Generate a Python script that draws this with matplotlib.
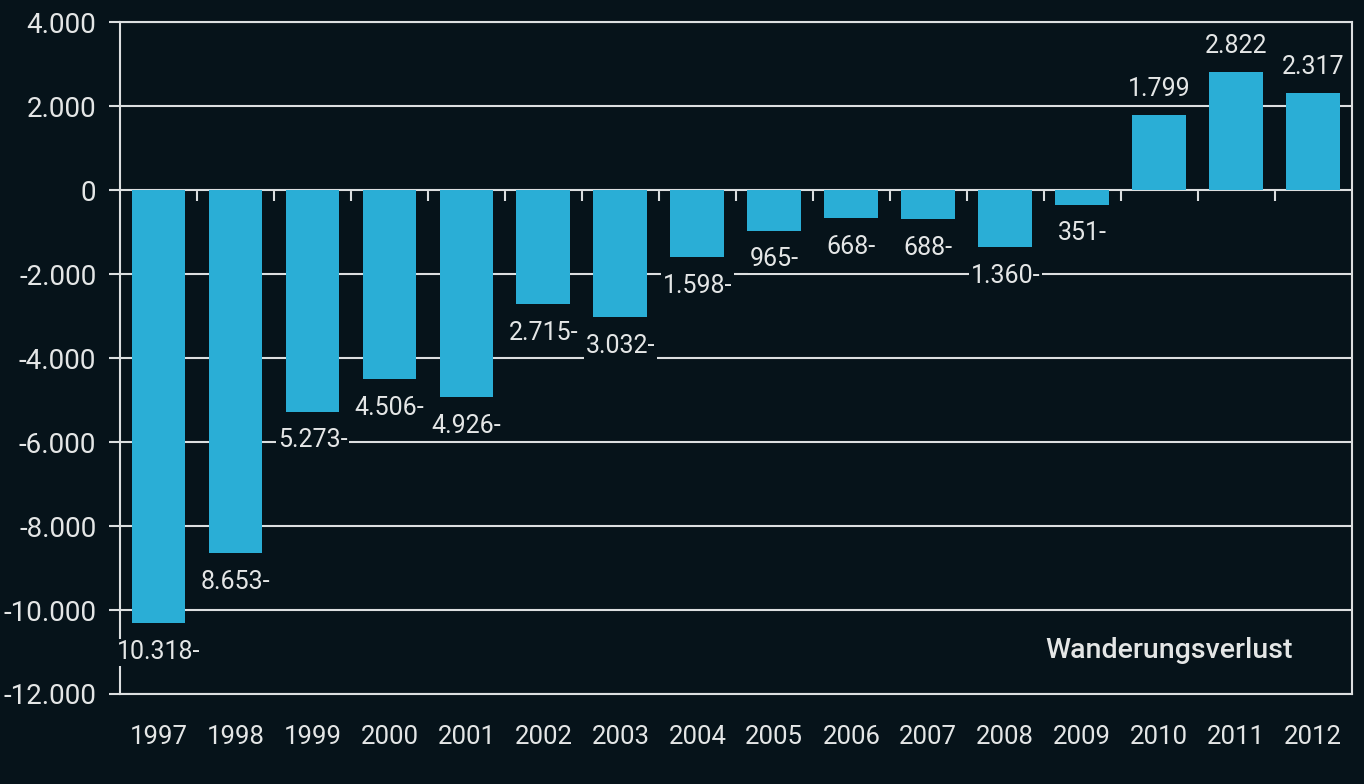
import matplotlib.pyplot as plt
from matplotlib.ticker import FuncFormatter

years = ['1997', '1998', '1999', '2000', '2001', '2002', '2003', '2004',
         '2005', '2006', '2007', '2008', '2009', '2010', '2011', '2012']
saldo = [-10318, -8653, -5273, -4506, -4926, -2715, -3032, -1598,
         -965, -668, -688, -1360, -351, 1799, 2822, 2317]
y_ticks = [-12000, -10000, -8000, -6000, -4000, -2000, 0, 2000, 4000]

bg = '#06131a'
bar_col = '#2aaed6'
txt = '#e4e6e6'
line_col = '#dcdfe0'

plt.rcParams['font.family'] = ['Roboto', 'DejaVu Sans']


def de_num(v):
    return f'{int(abs(v)):,}'.replace(',', '.')


fig = plt.figure(figsize=(13.64, 7.84), dpi=100, facecolor=bg)
ax = fig.add_axes([0.088, 0.1148, 0.903, 0.857], facecolor=bg)

x = list(range(len(years)))
ax.bar(x, saldo, width=0.7, color=bar_col, zorder=2)

ax.set_xlim(-0.5, len(years) - 0.5)
ax.set_ylim(-12000, 4000)
ax.set_yticks(y_ticks)
ax.yaxis.set_major_formatter(FuncFormatter(
    lambda v, p: ('-' if v < 0 else '') + de_num(v)))
ax.set_xticks(x)
ax.set_xticklabels(years)
ax.tick_params(axis='x', length=0, pad=22, labelsize=18.5, colors=txt)
ax.tick_params(axis='y', length=8, width=1.5, pad=9, labelsize=20,
               colors=line_col, labelcolor=txt)
ax.grid(axis='y', color=line_col, linewidth=1.5, zorder=1)
ax.set_axisbelow(True)
for s in ax.spines.values():
    s.set_color(line_col)
    s.set_linewidth(1.5)

# zero line with small ticks between the categories
zero = ax.secondary_xaxis(12000 / 16000)
zero.set_xticks([i + 0.5 for i in x[:-1]])
zero.set_xticklabels([])
zero.tick_params(axis='x', direction='in', length=8, width=1.5,
                 colors=line_col)
zero.spines['bottom'].set_color(line_col)
zero.spines['bottom'].set_linewidth(1.5)

for xi, v in zip(x, saldo):
    if v < 0:
        ax.annotate(de_num(v) + '-', (xi, v), xytext=(0, -12),
                    textcoords='offset points', ha='center', va='top',
                    fontsize=18, color=txt, zorder=5,
                    bbox=dict(facecolor=bg, edgecolor='none', pad=1),
                    annotation_clip=False)
    else:
        ax.annotate(de_num(v), (xi, v), xytext=(0, 10),
                    textcoords='offset points', ha='center', va='bottom',
                    fontsize=18, color=txt, zorder=5,
                    bbox=dict(facecolor=bg, edgecolor='none', pad=1))

ax.text(0.952, 0.065, 'Wanderungsverlust', transform=ax.transAxes,
        ha='right', va='center', fontsize=20.5, fontweight='medium',
        color=txt)

fig.savefig('out.png', dpi=100, facecolor=bg)
